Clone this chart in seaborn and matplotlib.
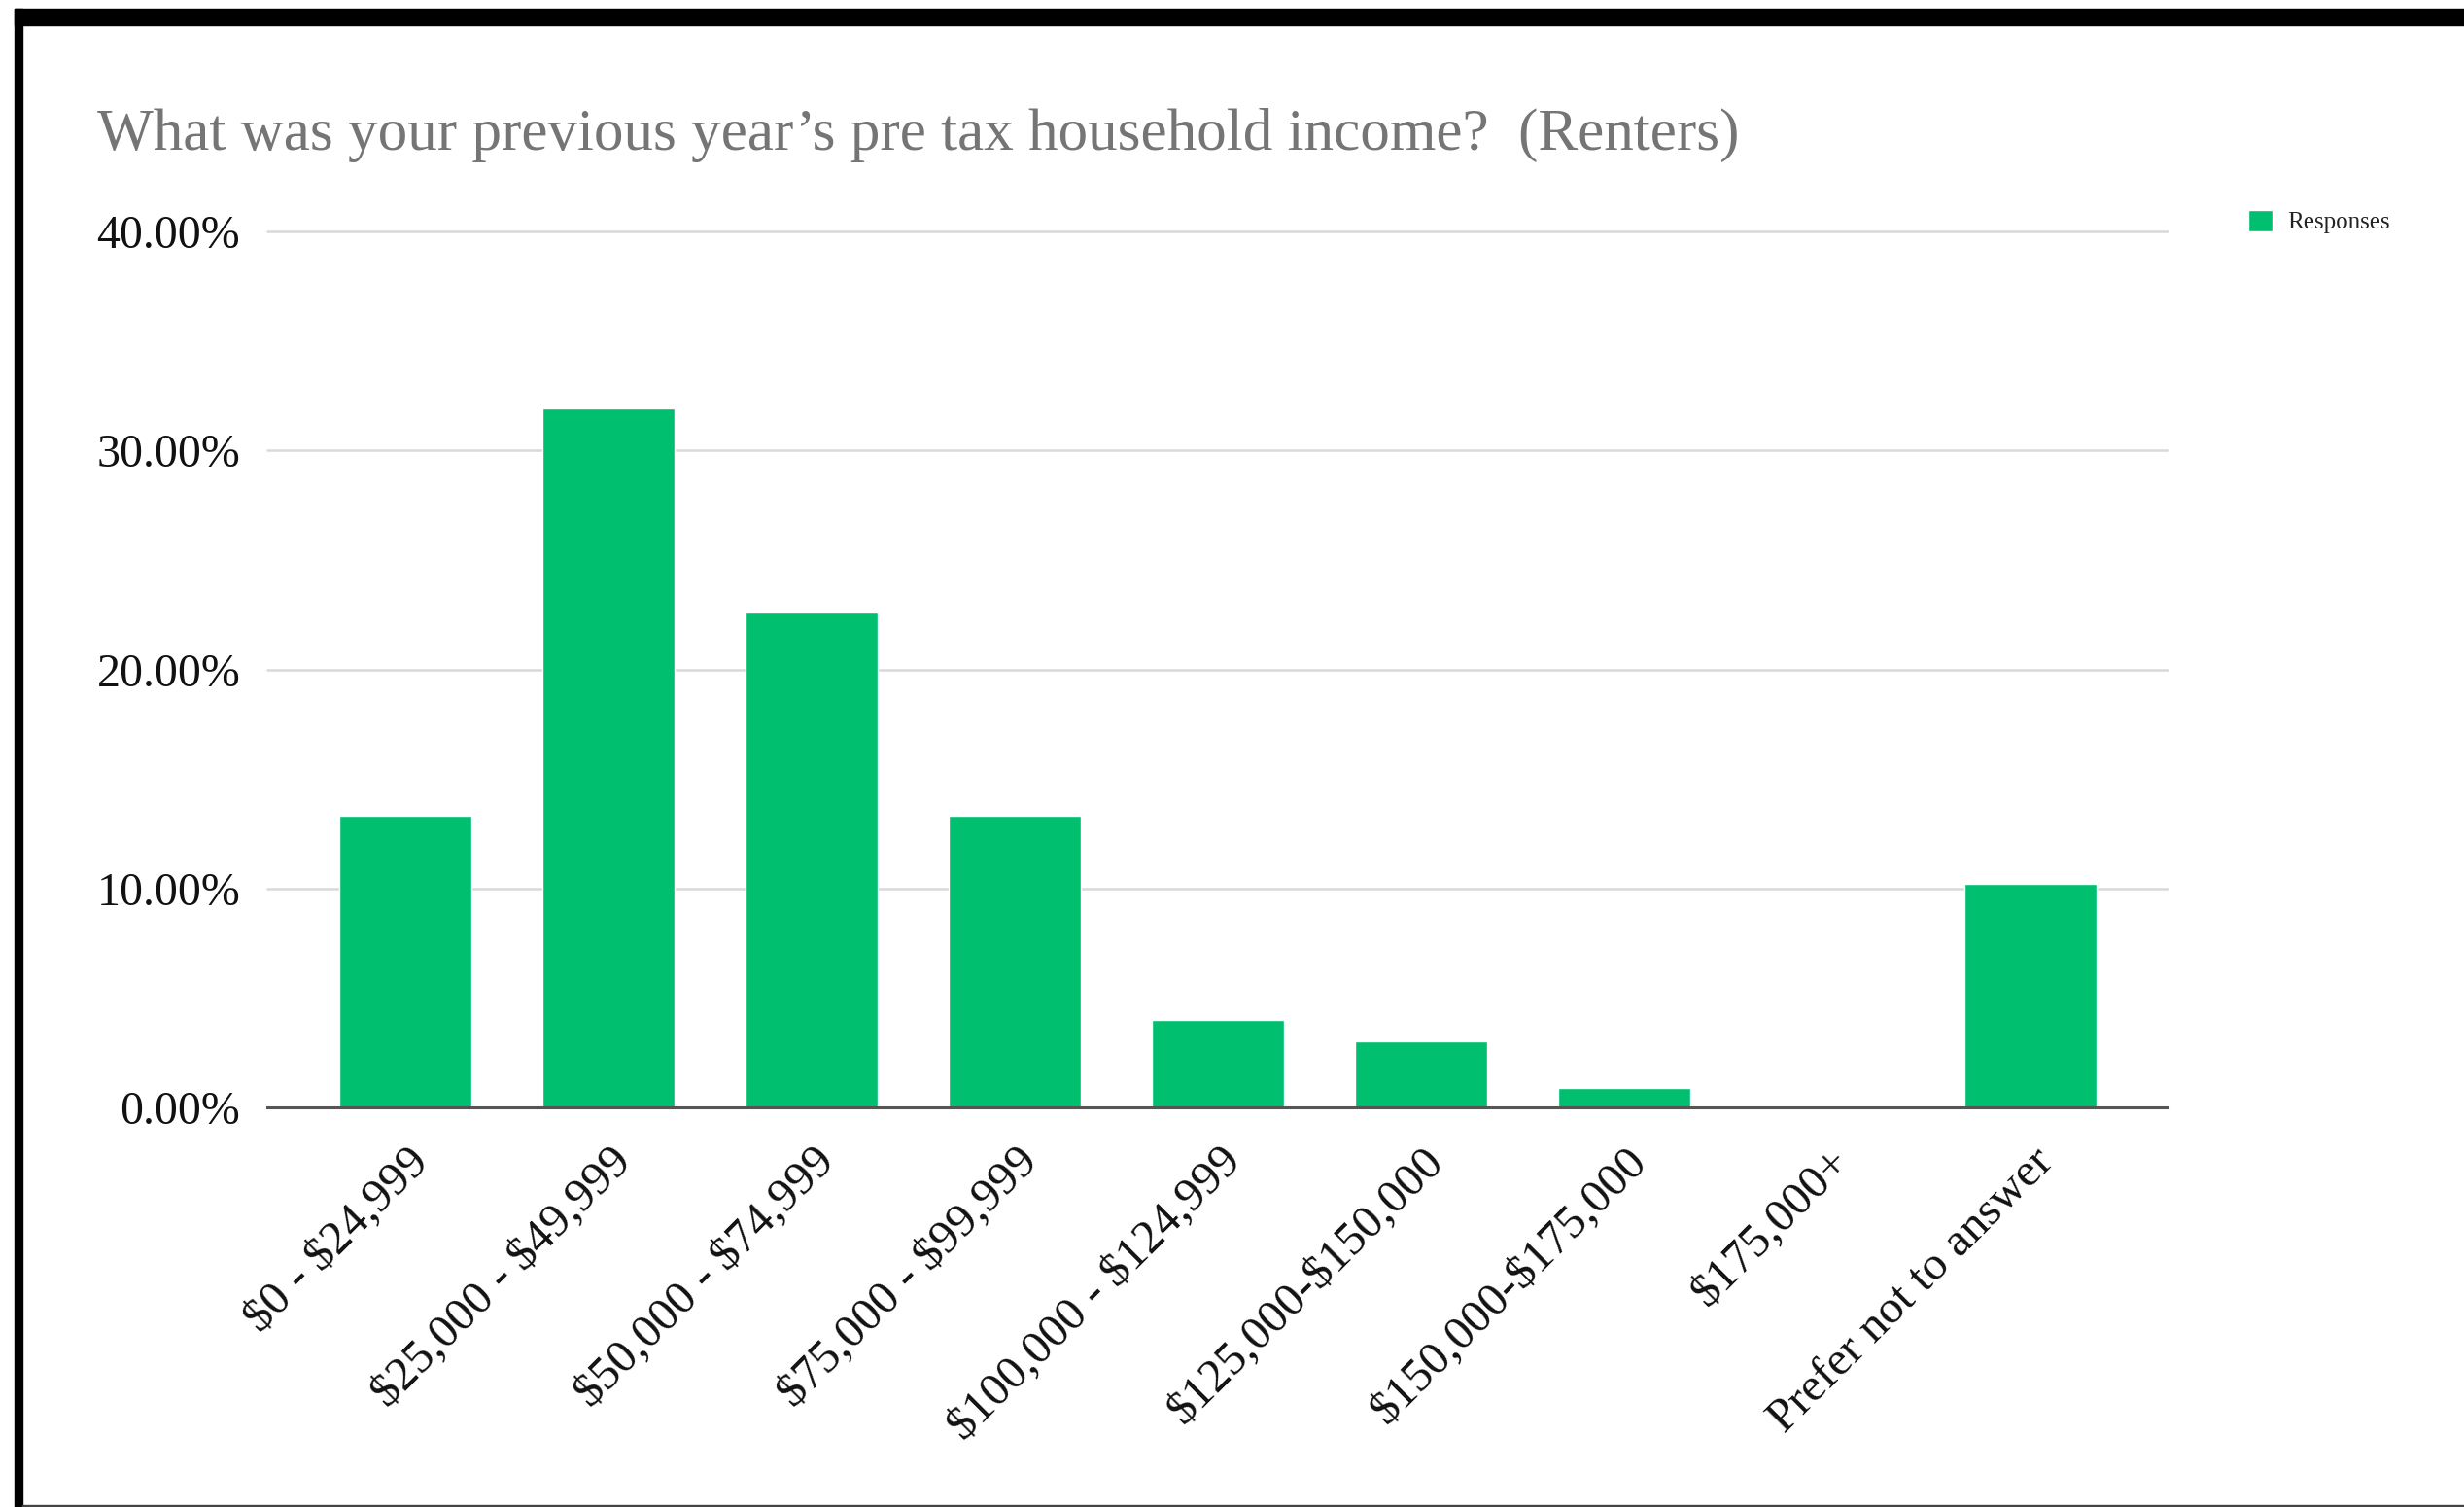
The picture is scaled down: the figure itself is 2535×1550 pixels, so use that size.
import matplotlib
matplotlib.use("Agg")
import matplotlib.pyplot as plt
from matplotlib.patches import Rectangle
from matplotlib.ticker import FuncFormatter
from matplotlib.transforms import ScaledTranslation
import seaborn as sns
import pandas as pd

# Survey responses: previous year's pre-tax household income (renters)
categories = [
    "$0 - $24,999",
    "$25,000 - $49,999",
    "$50,000 - $74,999",
    "$75,000 - $99,999",
    "$100,000 - $124,999",
    "$125,000-$150,000",
    "$150,000-$175,000",
    "$175,000+",
    "Prefer not to answer",
]
responses = [13.3, 31.9, 22.6, 13.3, 4.0, 3.0, 0.9, 0.0, 10.2]
y_ticks = [0, 10, 20, 30, 40]

title = "What was your previous year\u2019s pre tax household income?  (Renters)"
series_name = "Responses"
bar_color = "#00BF6F"

sns.set_theme(style="white")
plt.rcParams["font.family"] = ["Liberation Serif", "DejaVu Serif"]
plt.rcParams["text.parse_math"] = False

W, H = 2535, 1550
fig = plt.figure(figsize=(W / 100, H / 100), dpi=100)
fig.patch.set_facecolor("white")

# plot area in pixel coordinates
left, right, top, bottom = 275, 2230, 238, 1139
ax = fig.add_axes([left / W, 1 - bottom / H, (right - left) / W, (bottom - top) / H])

df = pd.DataFrame({"income": categories, "share": responses})
sns.barplot(data=df, x="income", y="share", color=bar_color, width=0.65,
            saturation=1, label=series_name, ax=ax, zorder=3)
handles, labels = ax.get_legend_handles_labels()
if ax.get_legend() is not None:
    ax.get_legend().remove()

ax.set_xlim(-0.68, len(categories) - 1 + 0.675)
ax.set_ylim(0, 40)
ax.set_yticks(y_ticks)
ax.yaxis.set_major_formatter(FuncFormatter(lambda v, _: f"{v:.2f}%"))
ax.set_xlabel("")
ax.set_ylabel("")

for s in ["top", "right", "left"]:
    ax.spines[s].set_visible(False)
ax.spines["bottom"].set_color("#555555")
ax.spines["bottom"].set_linewidth(2.2)
ax.spines["bottom"].set_zorder(4)

ax.grid(axis="y", color="#d9d9d9", linewidth=1.8, zorder=0)
for gl in ax.get_ygridlines():
    gl.set_clip_on(False)

ax.tick_params(axis="y", length=0, pad=20, labelsize=34.5, labelcolor="#111111")
ax.tick_params(axis="x", length=0, pad=6, labelsize=35, labelcolor="#111111")
ax.set_xticks(range(len(categories)))
ax.set_xticklabels(categories, rotation=45, ha="right", rotation_mode="anchor")

offset = ScaledTranslation(0.01, -0.25, fig.dpi_scale_trans)
for lbl in ax.get_xticklabels():
    lbl.set_transform(lbl.get_transform() + offset)

fig.text(100 / W, 1 - 154 / H, title, fontsize=44, color="#757575",
         ha="left", va="baseline")

fig.legend(handles, labels, loc="center left",
           bbox_to_anchor=(2313 / W, 1 - 228 / H), frameon=False,
           fontsize=18, handlelength=1.0, handleheight=1.0,
           handletextpad=0.6, borderpad=0, borderaxespad=0,
           labelcolor="#222222")

# black page frame around the chart
fig.patches.append(Rectangle((15 / W, 0), 8 / W, 1 - 9 / H, transform=fig.transFigure,
                             color="black", zorder=10))
fig.patches.append(Rectangle((15 / W, 1 - 26 / H), 1 - 15 / W, 17 / H,
                             transform=fig.transFigure, color="black", zorder=10))
fig.patches.append(Rectangle((23 / W, 0), 1 - 23 / W, 2.5 / H, transform=fig.transFigure,
                             color="#444444", zorder=10))

fig.savefig("out.png", dpi=100)
